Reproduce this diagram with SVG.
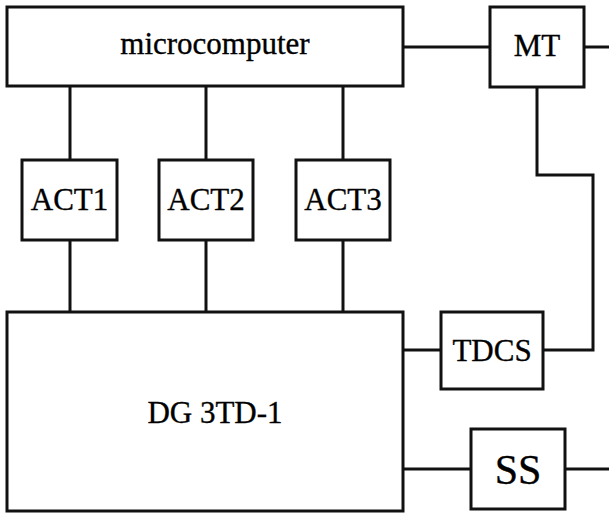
<svg xmlns="http://www.w3.org/2000/svg" width="609" height="513" viewBox="0 0 609 513">
  <style>
    .box { fill: #fff; stroke: #111; stroke-width: 3; }
    .wire { fill: none; stroke: #111; stroke-width: 3; }
    .lbl { font-family: "Liberation Serif", "Times New Roman", serif; font-size: 31px; fill: #000; stroke: #000; stroke-width: 0.35; text-anchor: middle; }
    .big { font-size: 42px; }
  </style>
  <rect width="609" height="513" fill="#fff"/>

  <!-- connectors -->
  <g id="connectors">
    <line class="wire" x1="403" y1="47" x2="490" y2="47"/>
    <line class="wire" x1="584" y1="47" x2="609" y2="47"/>
    <line class="wire" x1="70" y1="86" x2="70" y2="160"/>
    <line class="wire" x1="206" y1="86" x2="206" y2="160"/>
    <line class="wire" x1="343" y1="86" x2="343" y2="160"/>
    <line class="wire" x1="70" y1="240" x2="70" y2="312"/>
    <line class="wire" x1="206" y1="240" x2="206" y2="312"/>
    <line class="wire" x1="343" y1="240" x2="343" y2="312"/>
    <polyline class="wire" points="537,87 537,175 593,175 593,350 543,350"/>
    <line class="wire" x1="403" y1="350" x2="441" y2="350"/>
    <line class="wire" x1="403" y1="469" x2="471" y2="469"/>
    <line class="wire" x1="565" y1="469" x2="609" y2="469"/>
  </g>

  <g id="microcomputer">
    <rect class="box" x="7" y="7" width="396" height="79"/>
    <text class="lbl" x="215" y="54">microcomputer</text>
  </g>
  <g id="MT">
    <rect class="box" x="490" y="7" width="94" height="80"/>
    <text class="lbl" x="537" y="56">MT</text>
  </g>
  <g id="ACT1">
    <rect class="box" x="22" y="160" width="95" height="80"/>
    <text class="lbl" x="69.500" y="210">ACT1</text>
  </g>
  <g id="ACT2">
    <rect class="box" x="159" y="160" width="94" height="80"/>
    <text class="lbl" x="206" y="210">ACT2</text>
  </g>
  <g id="ACT3">
    <rect class="box" x="296" y="160" width="94" height="80"/>
    <text class="lbl" x="343" y="210">ACT3</text>
  </g>
  <g id="DG3TD-1">
    <rect class="box" x="7" y="312" width="396" height="199"/>
    <text class="lbl" x="215" y="423">DG 3TD-1</text>
  </g>
  <g id="TDCS">
    <rect class="box" x="441" y="312" width="102" height="77"/>
    <text class="lbl" x="492" y="361">TDCS</text>
  </g>
  <g id="SS">
    <rect class="box" x="471" y="429" width="94" height="80"/>
    <text class="lbl big" x="518" y="484">SS</text>
  </g>
</svg>
